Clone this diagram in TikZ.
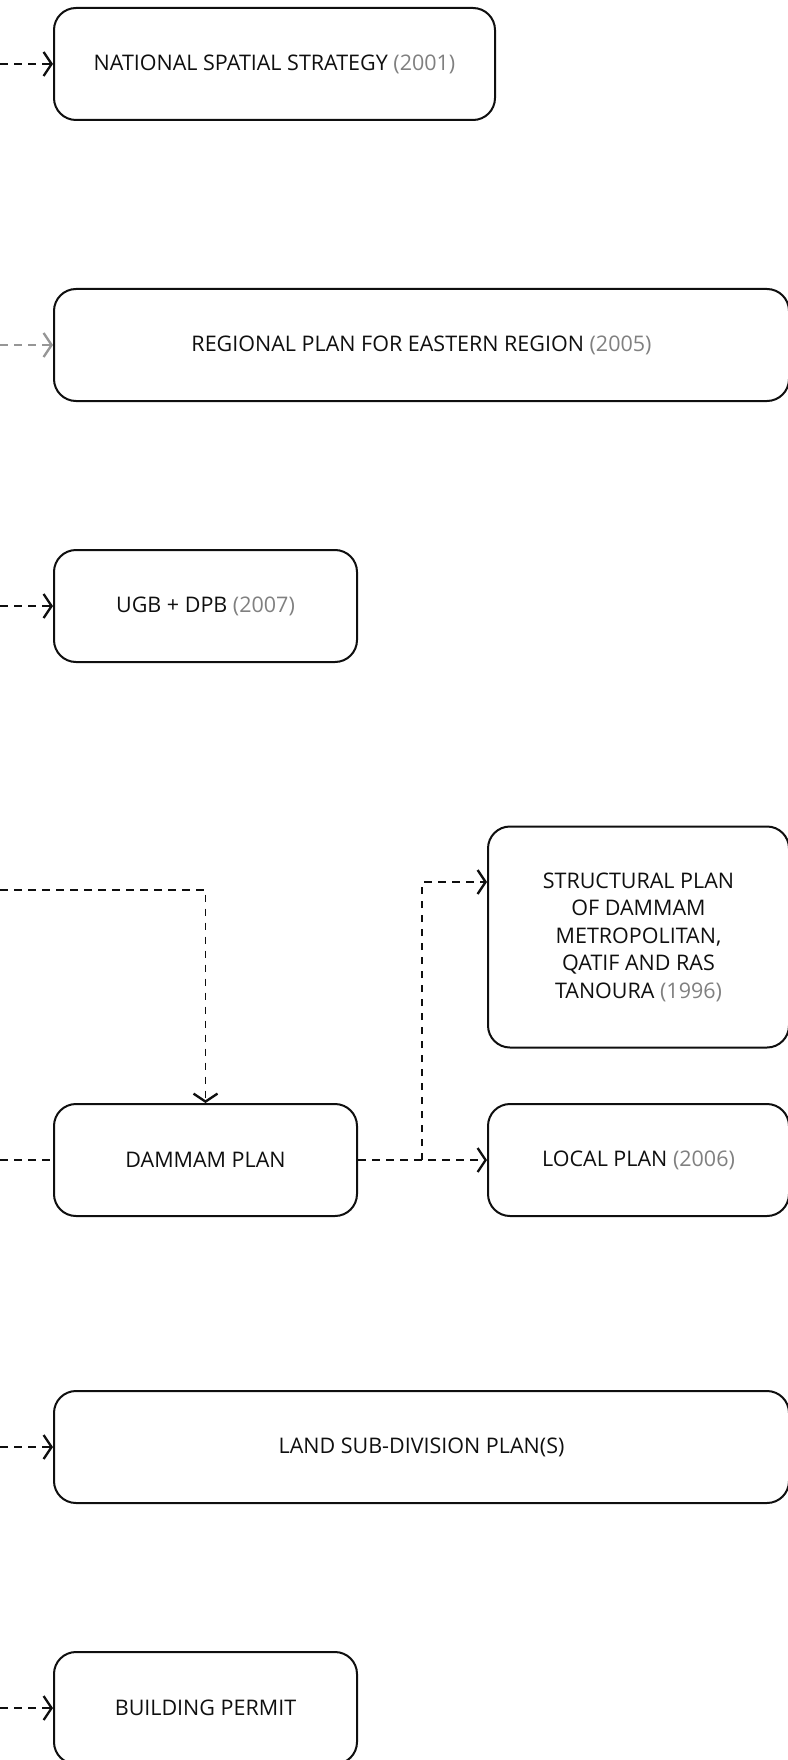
\documentclass[tikz,border=0pt]{standalone}
\usepackage{fontspec}
\setmainfont{Open Sans}
\usetikzlibrary{arrows.meta}

\definecolor{yeargray}{RGB}{128,128,128}
\definecolor{inkblack}{RGB}{15,15,15}
\definecolor{feedgray}{RGB}{150,150,150}
\newcommand{\planyear}[1]{\textcolor{yeargray}{(#1)}}

\tikzset{
  planbox/.style={draw=inkblack, line width=2pt, rounded corners=22pt, align=center,
    text=inkblack, inner sep=0pt, minimum height=112pt,
    font=\fontsize{21.5}{27.5}\selectfont},
  link/.style={draw=inkblack, line width=1.9pt, dash pattern=on 7.5pt off 6.5pt},
  linkto/.style={link, -{Straight Barb[length=8pt,width=24pt,line width=2.3pt]}}
}

\begin{document}
\begin{tikzpicture}[x=1pt,y=-1pt]
            \useasboundingbox (0,0) rectangle (787,1760);

            % Draw the plan boxes
            \node[planbox, minimum width=441pt] (nss) at (274.5,64) {NATIONAL SPATIAL STRATEGY \planyear{2001}};
            \node[planbox, minimum width=735pt] (regional) at (421.5,345) {REGIONAL PLAN FOR EASTERN REGION \planyear{2005}};
            \node[planbox, minimum width=303pt] (ugb) at (205.5,606) {UGB + DPB \planyear{2007}};
            \node[planbox, minimum width=301pt, minimum height=221pt] (structural) at (638.5,937)
                {STRUCTURAL PLAN\\OF DAMMAM\\METROPOLITAN,\\QATIF AND RAS\\TANOURA \planyear{1996}};
            \node[planbox, minimum width=303pt] (dammam) at (205.5,1160) {DAMMAM PLAN};
            \node[planbox, minimum width=301pt] (local) at (638.5,1160) {LOCAL PLAN \planyear{2006}};
            \node[planbox, minimum width=735pt] (subdivision) at (421.5,1447) {LAND SUB-DIVISION PLAN(S)};
            \node[planbox, minimum width=303pt] (permit) at (205.5,1708) {BUILDING PERMIT};

            % Free ends on the left edge
            \coordinate (nssin) at (0,64);
            \coordinate (regionalin) at (0,345);
            \coordinate (ugbin) at (0,606);
            \coordinate (topin) at (0,890);
            \coordinate (dammamin) at (0,1160);
            \coordinate (subdivisionin) at (0,1447);
            \coordinate (permitin) at (0,1708);
            \coordinate (split) at (422,1160);

            % Draw the wires entering the boxes
            \draw[linkto] (nssin) -- (nss.west);
            \draw[linkto, draw=feedgray] (regionalin) -- (regional.west);
            \draw[linkto] (ugbin) -- (ugb.west);
            \draw[linkto] (topin) -| (dammam.north);
            \draw[link] (dammamin) -- (dammam.west);
            \draw[linkto] (subdivisionin) -- (subdivision.west);
            \draw[linkto] (permitin) -- (permit.west);

            % Draw the wires leaving the Dammam plan
            \draw[linkto] (dammam.east) -- (local.west);
            \draw[linkto] (split) |- ([yshift=55pt]structural.west);

\end{tikzpicture}
\end{document}
